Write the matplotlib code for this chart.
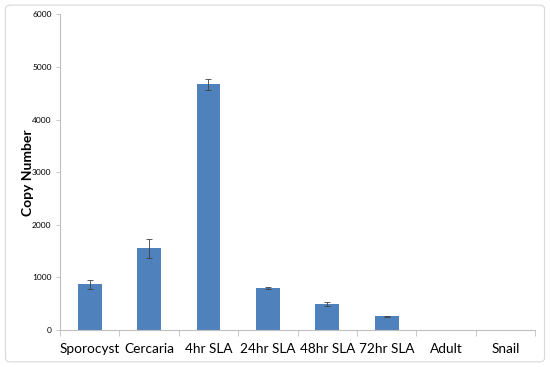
import matplotlib.pyplot as plt
import numpy as np
from matplotlib.patches import FancyBboxPatch

stages = ['Sporocyst', 'Cercaria', '4hr SLA', '24hr SLA', '48hr SLA', '72hr SLA', 'Adult', 'Snail']
copies = [870, 1550, 4670, 800, 500, 260, 0, 0]
errors = [90, 180, 110, 20, 40, 10, 0, 0]

plt.rcParams['font.family'] = ['Lato', 'DejaVu Sans']

fig = plt.figure(figsize=(5.5, 3.67), dpi=100)
ax = fig.add_axes([0.109, 0.1008, 0.864, 0.86])

x = np.arange(len(stages))
ax.bar(x, copies, width=0.4, color='#4f81bd', zorder=2)
ax.errorbar(x[:6], copies[:6], yerr=errors[:6], fmt='none', ecolor='#404040',
            elinewidth=0.6, capsize=2, capthick=0.6, zorder=3)

ax.set_xlim(-0.5, len(stages) - 0.5)
ax.set_ylim(0, 6000)
ax.set_yticks(range(0, 6001, 1000))
ax.tick_params(axis='y', labelsize=6, length=3, width=0.6, color='#bfbfbf', pad=3)
ax.set_xticks(x)
ax.set_xticklabels(stages, fontsize=9.8)
ax.tick_params(axis='x', which='major', length=0, pad=9)
ax.set_xticks(np.arange(-0.5, len(stages), 1), minor=True)
ax.tick_params(axis='x', which='minor', length=4, width=0.6, color='#bfbfbf')

for side in ['top', 'right']:
    ax.spines[side].set_visible(False)
for side in ['left', 'bottom']:
    ax.spines[side].set_color('#bfbfbf')
    ax.spines[side].set_linewidth(0.8)

ax.set_ylabel('Copy Number', fontsize=10, fontweight='bold')
ax.yaxis.set_label_coords(-0.055, 0.5)

frame = FancyBboxPatch((0.01, 0.014), 0.98, 0.972, boxstyle='round,pad=0,rounding_size=0.01',
                       transform=fig.transFigure, fill=False, edgecolor='#d9d9d9', linewidth=0.8)
fig.patches.append(frame)

fig.savefig('out.png', dpi=100)
